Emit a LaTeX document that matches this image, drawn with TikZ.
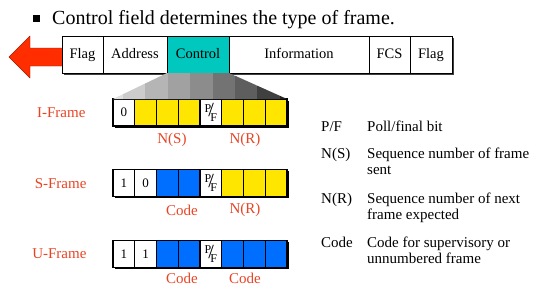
\documentclass[tikz,border=0pt]{standalone}
\usepackage{fontspec}
\setmainfont{Liberation Serif}
\usetikzlibrary{positioning}
\definecolor{ctrlteal}{RGB}{0,200,190}
\definecolor{bityellow}{RGB}{255,230,0}
\definecolor{bitblue}{RGB}{0,110,255}
\definecolor{lblred}{RGB}{232,68,36}
\definecolor{arrred}{RGB}{255,45,0}
\newcommand{\pfbit}{{\fontsize{12}{12}\selectfont\raisebox{4.5pt}{P}\kern-3pt{\fontsize{20}{20}\selectfont/}\kern-3.5pt\raisebox{-4.5pt}{F}}}

\begin{document}
\begin{tikzpicture}[
  x=1pt, y=-1pt,
  node distance=0pt,
  fld/.style={draw, thick, fill=white, minimum height=37pt, inner sep=0pt, outer sep=0pt,
    text height=10pt, text depth=3pt, font=\fontsize{14.5}{16}\selectfont},
  bit/.style={draw, line width=1.3pt, minimum width=21.75pt, minimum height=27pt, inner sep=0pt,
    outer sep=0pt, font=\fontsize{13}{15}\selectfont},
  wht/.style={bit, fill=white},
  ylw/.style={bit, fill=bityellow},
  blu/.style={bit, fill=bitblue},
  frm/.style={anchor=east, text=lblred, font=\fontsize{15}{17}\selectfont},
  sub/.style={text=lblred, font=\fontsize{15}{17}\selectfont},
  key/.style={anchor=base west, inner sep=0pt, font=\fontsize{15}{16.5}\selectfont},
  desc/.style={key, align=left}
]
\useasboundingbox (0,0) rectangle (533,289);

\node[fill, minimum size=7pt, inner sep=0pt] (bullet) at (36,18) {};
\node[anchor=base west, inner sep=0pt, font=\fontsize{20}{22}\selectfont] (title) at (52,24)
  {Control field determines the type of frame.};

\fill[arrred, draw=arrred!60!black] (64,48) -- (30,48) -- (30,36) -- (9,57) -- (30,78) -- (30,66) -- (64,66) -- cycle;
\fill[black!75] (64,38) rectangle (454,75);
\node[fld, minimum width=41pt, anchor=north west] (flagl) at (62,36) {Flag};
\node[fld, minimum width=64pt, right=of flagl] (addr) {Address};
\node[fld, minimum width=62pt, fill=ctrlteal, right=of addr] (ctrl) {Control};
\node[fld, minimum width=140pt, right=of ctrl] (info) {Information};
\node[fld, minimum width=41pt, right=of info] (fcs) {FCS};
\node[fld, minimum width=42pt, right=of fcs] (flagr) {Flag};

\foreach \yr in {112.5, 183, 254}
  \fill[black] (114.5,{\yr-12}) rectangle (288.5,{\yr+15});
\foreach \st/\tx [count=\k] in {wht/0, ylw/, ylw/, ylw/, wht/\pfbit, ylw/, ylw/, ylw/}
  \node[\st] (i\k) at ({113+21.75*(\k-0.5)}, 112.5) {\tx};
\foreach \st/\tx [count=\k] in {wht/1, wht/0, blu/, blu/, wht/\pfbit, ylw/, ylw/, ylw/}
  \node[\st] (s\k) at ({113+21.75*(\k-0.5)}, 183) {\tx};
\foreach \st/\tx [count=\k] in {wht/1, wht/1, blu/, blu/, wht/\pfbit, blu/, blu/, blu/}
  \node[\st] (u\k) at ({113+21.75*(\k-0.5)}, 254) {\tx};

\begin{scope}
  \clip (ctrl.south west) -- (ctrl.south east) -- (i8.north east) -- (i1.north west) -- cycle;
  \foreach \xa/\xb/\p in {100/123/12, 123/145/20, 145/168/29, 168/190/37, 190/213/45,
      213/235/55, 235/257/63, 257/280/75, 280/300/86}
    \fill[black!\p] (\xa,70) rectangle (\xb,100);
\end{scope}

\node[frm] (iframe) at (89,113) {I-Frame};
\node[frm] (sframe) at (90,184) {S-Frame};
\node[frm] (uframe) at (90,254) {U-Frame};

\node[sub] (ins) at (172,140) {N(S)};
\node[sub] (inr) at (245,140) {N(R)};
\node[sub] (scode) at (182,210) {Code};
\node[sub] (snr) at (245,210) {N(R)};
\node[sub] (ucode) at (182,278) {Code};
\node[sub] (ucode2) at (245,278) {Code};

\node[key] (kpf) at (321,131) {P/F};
\node[key] (dpf) at (367,131) {Poll/final bit};
\node[key] (kns) at (321,158) {N(S)};
\node[desc] (dns) at (367,174.5) {Sequence number of frame\\sent};
\node[key] (knr) at (321,203) {N(R)};
\node[desc] (dnr) at (367,219.5) {Sequence number of next\\frame expected};
\node[key] (kcode) at (321,247) {Code};
\node[desc] (dcode) at (367,263.5) {Code for supervisory or\\unnumbered frame};
\end{tikzpicture}
\end{document}
